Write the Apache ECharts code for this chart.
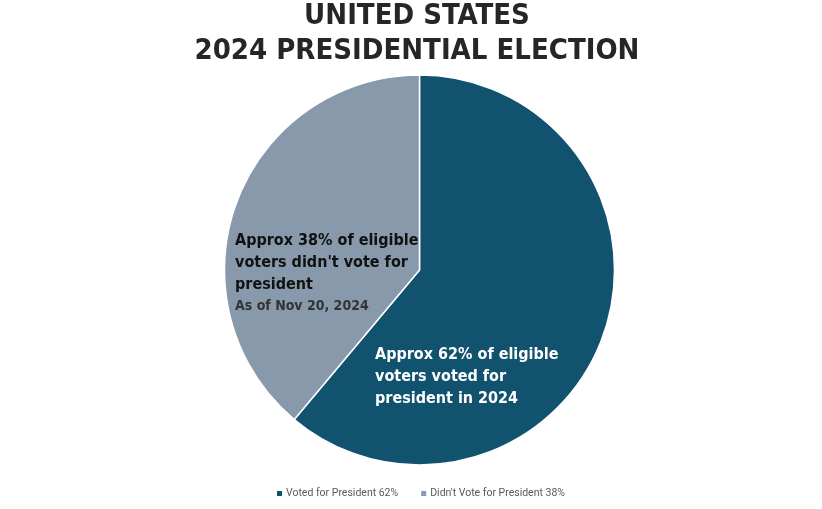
<!DOCTYPE html>
<html><head><meta charset="utf-8">
<script src="https://cdn.jsdelivr.net/npm/echarts@6/dist/echarts.min.js"></script>
<style>html,body{margin:0;padding:0;background:#fff}#c{width:822px;height:509px}</style>
</head><body><div id="c"></div>
<script>
const categories = ["Voted for President 62%", "Didn't Vote for President 38%"];
const values = [61.1, 38.9];
const sliceLabels = [
  "Approx 62% of eligible\nvoters voted for\npresident in 2024",
  "Approx 38% of eligible\nvoters didn't vote for\npresident"
];
const noteText = "As of Nov 20, 2024";
const titleLines = ["UNITED STATES", "2024 PRESIDENTIAL ELECTION"];
const colors = ["#11526e", "#8799aa"];

const font = "'DejaVu Sans Condensed', 'DejaVu Sans', sans-serif";
const chart = echarts.init(document.getElementById('c'));
const labelPos = [{x: 375, y: 344}, {x: 235, y: 230}];
chart.setOption({
  animation: false,
  title: {
    text: titleLines.join("\n"),
    left: 412, top: -6, textAlign: 'center',
    textStyle: {fontFamily: font, fontWeight: 'bold', fontSize: 29, lineHeight: 35, color: '#262626'}
  },
  legend: {
    bottom: 5, left: 270, itemWidth: 7, itemHeight: 7, itemGap: 21,
    icon: 'rect',
    textStyle: {fontFamily: "Roboto, sans-serif", fontSize: 10.5, color: '#595959', padding: [0,0,0,-2]}
  },
  series: [{
    type: 'pie',
    center: [419.5, 270],
    radius: [0, 195],
    startAngle: 90,
    clockwise: true,
    itemStyle: {borderColor: '#fff', borderWidth: 1.5},
    label: {
      show: true, position: 'inside',
      fontFamily: font, fontWeight: 'bold', fontSize: 16, lineHeight: 22,
      align: 'left', verticalAlign: 'top'
    },
    labelLayout: function(p){ const pos = labelPos[p.dataIndex]; return {x: pos.x, y: pos.y, align: 'left', verticalAlign: 'top'}; },
    data: categories.map((c, i) => ({
      name: c, value: values[i],
      itemStyle: {color: colors[i]},
      label: i === 0
        ? {formatter: sliceLabels[0], color: '#ffffff'}
        : {formatter: sliceLabels[1] + '\n{n|' + noteText + '}', color: '#111111',
           rich: {n: {fontFamily: font, fontWeight: 'bold', fontSize: 14, color: '#333333', lineHeight: 21}}}
    }))
  }]
});
</script></body></html>
